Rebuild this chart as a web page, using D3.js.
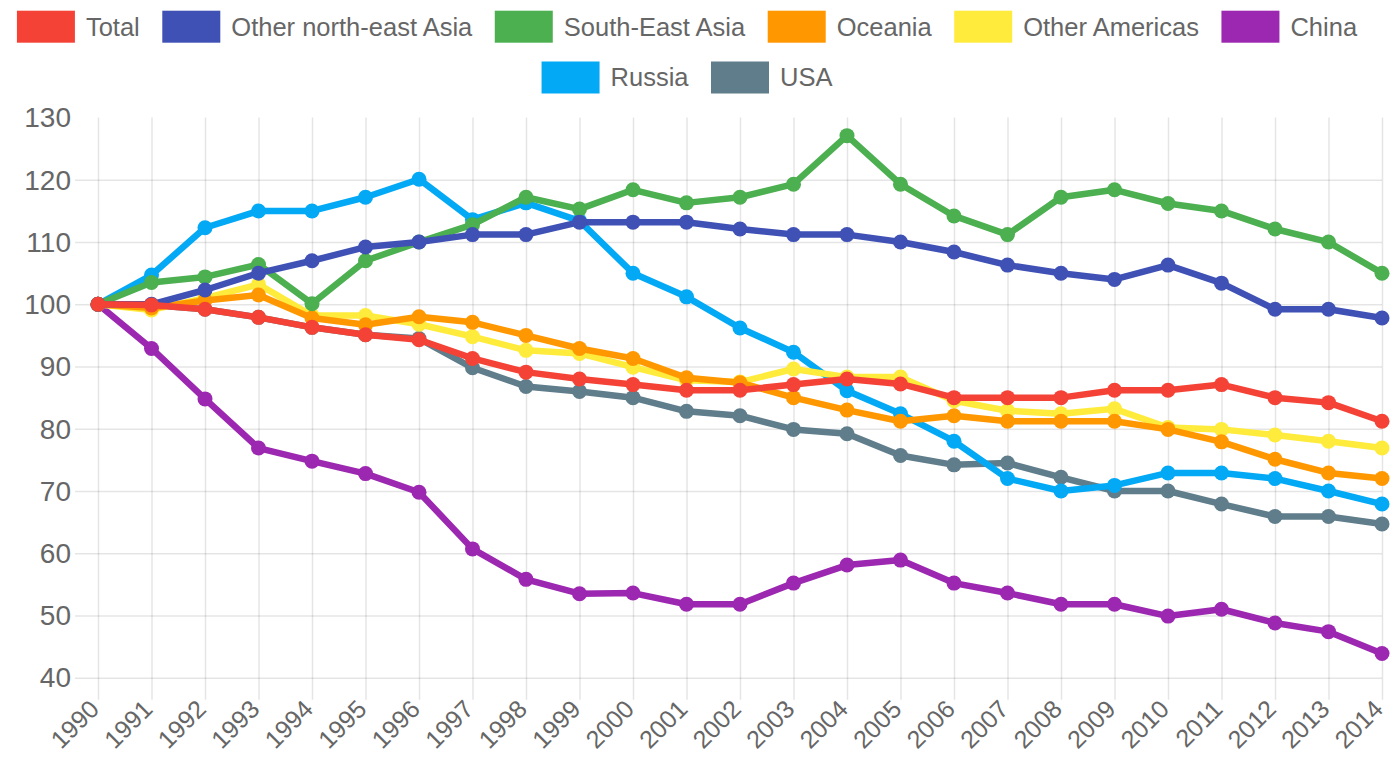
<!DOCTYPE html>
<html>
<head>
<meta charset="utf-8">
<script src="https://cdn.jsdelivr.net/npm/d3@7/dist/d3.min.js"></script>
<style>
  html, body { margin: 0; padding: 0; background: #fff; }
  svg { display: block; font-family: "Liberation Sans", Arial, Helvetica, sans-serif; }
</style>
</head>
<body>
<svg id="chart" width="1390" height="763"></svg>
<script>
const years = ["1990","1991","1992","1993","1994","1995","1996","1997","1998","1999","2000","2001","2002","2003","2004","2005","2006","2007","2008","2009","2010","2011","2012","2013","2014"];
const yTicks = [40, 50, 60, 70, 80, 90, 100, 110, 120, 130];

const seriesNames = ["Total", "Other north-east Asia", "South-East Asia", "Oceania", "Other Americas", "China", "Russia", "USA"];
const seriesColors = ["#F44336", "#3F51B5", "#4CAF50", "#FF9800", "#FFEB3B", "#9C27B0", "#03A9F4", "#607D8B"];

const total = [100, 99.9, 99.2, 97.9, 96.3, 95.1, 94.3, 91.3, 89.1, 88.0, 87.1, 86.2, 86.2, 87.1, 88.0, 87.2, 85.0, 85.0, 85.0, 86.2, 86.2, 87.1, 85.0, 84.2, 81.2];
const otherNEAsia = [100, 100.0, 102.3, 105.0, 107.0, 109.2, 110.0, 111.2, 111.2, 113.2, 113.2, 113.2, 112.1, 111.2, 111.2, 110.0, 108.4, 106.3, 105.0, 104.0, 106.3, 103.4, 99.2, 99.2, 97.8];
const southEastAsia = [100, 103.5, 104.4, 106.4, 100.1, 107.0, 110.0, 112.8, 117.2, 115.3, 118.4, 116.3, 117.2, 119.3, 127.1, 119.3, 114.2, 111.2, 117.2, 118.4, 116.2, 115.0, 112.1, 110.0, 105.0];
const oceania = [100, 99.4, 100.6, 101.5, 97.8, 96.7, 98.0, 97.1, 95.0, 92.9, 91.3, 88.2, 87.4, 85.0, 83.0, 81.2, 82.1, 81.2, 81.2, 81.2, 79.9, 77.9, 75.1, 72.9, 72.0];
const otherAmericas = [100, 99.1, 101.0, 103.2, 98.2, 98.2, 96.8, 94.8, 92.6, 92.1, 89.9, 87.8, 87.5, 89.6, 88.3, 88.3, 84.5, 82.9, 82.4, 83.2, 80.2, 79.9, 79.0, 78.0, 76.9];
const china = [100, 92.9, 84.8, 76.9, 74.8, 72.8, 69.8, 60.7, 55.8, 53.5, 53.6, 51.8, 51.8, 55.2, 58.1, 58.9, 55.2, 53.6, 51.8, 51.8, 49.9, 51.0, 48.8, 47.4, 43.9];
const russia = [100, 104.7, 112.3, 115.0, 115.0, 117.2, 120.1, 113.6, 116.3, 113.4, 105.0, 101.2, 96.2, 92.3, 86.1, 82.4, 78.0, 72.0, 70.0, 70.9, 72.9, 72.9, 72.0, 70.0, 67.9];
const usa = [100, 99.9, 99.2, 97.9, 96.3, 95.1, 94.5, 89.8, 86.8, 86.0, 85.0, 82.8, 82.1, 79.9, 79.2, 75.7, 74.2, 74.5, 72.2, 70.0, 70.0, 67.9, 65.9, 65.9, 64.7];

const seriesValues = [total, otherNEAsia, southEastAsia, oceania, otherAmericas, china, russia, usa];
const datasets = seriesNames.map((n, i) => ({ name: n, color: seriesColors[i], values: seriesValues[i] }));

const svg = d3.select("#chart");
const plot = { left: 98, right: 1382, top: 117.6, bottom: 677.7 };

const x = d3.scalePoint().domain(years).range([plot.left, plot.right]);
const y = d3.scaleLinear().domain([40, 130]).range([plot.bottom, plot.top]);

const gridColor = "rgba(0,0,0,0.1)";
const textColor = "#666";

// Horizontal grid + y axis
const yAxis = d3.axisLeft(y).tickValues(yTicks).tickSize(plot.right - 75).tickPadding(5).tickFormat(d3.format("d"));
const gy = svg.append("g").attr("transform", `translate(${plot.right},0)`).call(yAxis);
gy.select(".domain").remove();
gy.selectAll(".tick line").attr("stroke", gridColor).attr("stroke-width", 1.5)
  .attr("opacity", d => d === 130 ? 0 : 1);
gy.selectAll(".tick text").attr("fill", textColor).attr("font-size", 28)
  .attr("x", -(plot.right - 71)).attr("dy", "0.33em").attr("text-anchor", "end");

// Vertical grid + x axis
const xAxis = d3.axisBottom(x).tickSize(-(plot.bottom - plot.top)).tickPadding(0);
const gx = svg.append("g").attr("transform", `translate(0,${plot.bottom})`).call(xAxis);
gx.select(".domain").remove();
gx.selectAll(".tick line").attr("stroke", gridColor).attr("stroke-width", 1.5).attr("y2", -(plot.bottom - plot.top)).attr("y1", 22);
gx.selectAll(".tick text")
  .attr("fill", textColor).attr("font-size", 25)
  .attr("text-anchor", "end")
  .attr("x", 0).attr("y", 0).attr("dy", 0)
  .attr("transform", "translate(2,33) rotate(-45)");

// Lines (drawn in reverse so first dataset is on top)
const line = d3.line().x((d, i) => x(years[i])).y(d => y(d));
const gLines = svg.append("g");
datasets.slice().reverse().forEach(ds => {
  const g = gLines.append("g");
  g.append("path").datum(ds.values)
    .attr("d", line).attr("fill", "none")
    .attr("stroke", ds.color).attr("stroke-width", 6.5)
    .attr("stroke-linejoin", "round").attr("stroke-linecap", "round");
  g.selectAll("circle").data(ds.values).enter().append("circle")
    .attr("cx", (d, i) => x(years[i])).attr("cy", d => y(d))
    .attr("r", 7.5).attr("fill", ds.color);
});

// Legend
const rows = [seriesNames.slice(0, 6), seriesNames.slice(6)];
const boxW = 58, boxH = 32, boxGap = 11, itemGap = 22.5, centerX = 687;
const rowTops = [10.7, 61.5];
const legend = svg.append("g");
rows.forEach((row, ri) => {
  const items = row.map(name => {
    const t = legend.append("text").text(name).attr("font-size", 25.5).attr("fill", textColor);
    return { name, t, w: t.node().getComputedTextLength() };
  });
  const totalW = d3.sum(items, it => boxW + boxGap + it.w) + itemGap * (items.length - 1);
  let cx = centerX - totalW / 2;
  items.forEach(it => {
    const idx = seriesNames.indexOf(it.name);
    legend.append("rect").attr("x", cx).attr("y", rowTops[ri]).attr("width", boxW).attr("height", boxH)
      .attr("fill", seriesColors[idx]);
    it.t.attr("x", cx + boxW + boxGap).attr("y", rowTops[ri] + boxH / 2).attr("dy", "0.35em");
    cx += boxW + boxGap + it.w + itemGap;
  });
});
</script>
</body>
</html>
